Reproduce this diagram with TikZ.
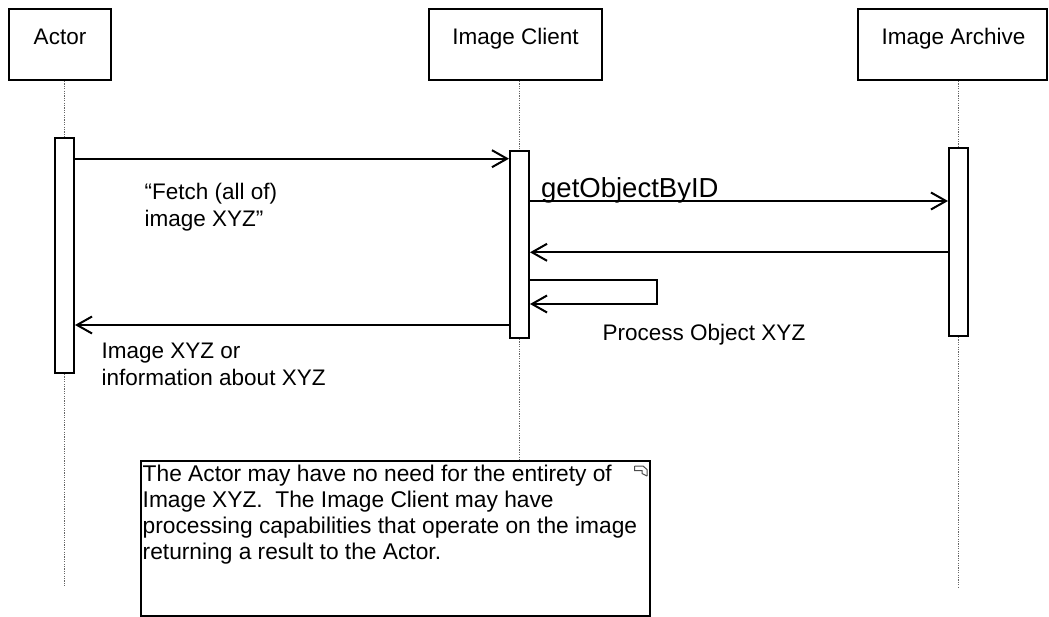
\documentclass[tikz,border=0pt]{standalone}
\usepackage{fontspec}
\setmainfont{Liberation Sans}
\usetikzlibrary{arrows.meta}
\begin{document}
\begin{tikzpicture}[x=1pt,y=-1pt,
  pbox/.style={draw, line width=2pt, inner sep=0pt, minimum height=71pt},
  actbar/.style={draw, fill=white, line width=2pt, inner sep=0pt, minimum width=19pt},
  lifeline/.style={draw=black!60, line width=1.2pt, dash pattern=on 1.2pt off 1.2pt},
  msg/.style={line width=2pt, -{Straight Barb[length=15pt,width=17pt]}},
  lbl/.style={inner sep=0pt, font=\fontsize{22.5}{27}\selectfont},
  notelbl/.style={inner sep=0pt, font=\fontsize{22.75}{27}\selectfont},
  biglbl/.style={inner sep=0pt, font=\fontsize{27.5}{32}\selectfont},
  notebox/.style={draw, line width=2pt, inner sep=0pt, fill=white}
]
\useasboundingbox[fill=white] (0,0) rectangle (1049,617);

% participants
\node[pbox, minimum width=102pt] (actor) at (60,44.5) {};
\node[lbl, anchor=base] (actorT) at (60,45) {Actor};
\node[pbox, minimum width=173pt] (client) at (515.5,44.5) {};
\node[lbl, anchor=base] (clientT) at (515.5,45) {Image Client};
\node[pbox, minimum width=189pt] (archive) at (952.5,44.5) {};
\node[lbl, anchor=base] (archiveT) at (953.5,45) {Image Archive};

% note
\node[notebox, minimum width=509pt, minimum height=155pt] (note) at (395.5,538.5) {};

% ends of lifelines
\coordinate (lend) at (0,587);

% activation bars
\node[actbar, minimum height=235pt] (abar) at (64.5,255.5) {};
\node[actbar, minimum height=187pt] (cbar) at (519.5,244.5) {};
\node[actbar, minimum height=188pt] (rbar) at (958.5,242) {};

% lifelines
\draw[lifeline] (abar.north |- actor.south) -- (abar.north);
\draw[lifeline] (abar.south) -- (abar.south |- lend);
\draw[lifeline] (cbar.north |- client.south) -- (cbar.north);
\draw[lifeline] (cbar.south) -- (cbar.south |- note.north);
\draw[lifeline] (rbar.north |- archive.south) -- (rbar.north);
\draw[lifeline] (rbar.south) -- (rbar.south |- lend);

% message levels
\coordinate (y1) at (0,158.7);
\coordinate (y2) at (0,201);
\coordinate (y3) at (0,252.3);
\coordinate (selfA) at (657,280);
\coordinate (selfB) at (657,304);
\coordinate (y5) at (0,325);

\draw[msg] (abar.east |- y1) -- (cbar.west |- y1);
\draw[msg] (cbar.east |- y2) -- (rbar.west |- y2);
\draw[msg] (rbar.west |- y3) -- (cbar.east |- y3);
\draw[msg] (cbar.east |- selfA) -- (selfA) -- (selfB) -- (cbar.east |- selfB);
\draw[msg] (cbar.west |- y5) -- (abar.east |- y5);

% message labels
\node[lbl, anchor=base west] (fetchA) at (144.5,199.3) {“Fetch (all of)};
\node[lbl, anchor=base west] (fetchB) at (144.5,226.5) {image XYZ”};
\node[biglbl, anchor=base west] (getobj) at (541,197.7) {getObjectByID};
\node[lbl, anchor=base west] (procT) at (602.5,340.7) {Process Object XYZ};
\node[lbl, anchor=base west] (retA) at (101.5,358.3) {Image XYZ or};
\node[lbl, anchor=base west] (retB) at (101.5,385.5) {information about XYZ};

% note text
\node[notelbl, anchor=base west] (noteA) at (142.5,481.7) {The Actor may have no need for the entirety of};
\node[notelbl, anchor=base west] (noteB) at (142.5,507.6) {Image XYZ.\ \ The Image Client may have};
\node[notelbl, anchor=base west] (noteC) at (142.5,533.5) {processing capabilities that operate on the image};
\node[notelbl, anchor=base west] (noteD) at (142.5,559.7) {returning a result to the Actor.};

% note corner icon
\draw[black!70, line width=1pt] (634.5,466) -- (643,466) -- (647,469.5) -- (647,476);
\draw[black!70, line width=1pt] (634.5,466) -- (634.5,470.5) -- (642,470.5) -- (642,473.5) -- (647,476);
\end{tikzpicture}
\end{document}
